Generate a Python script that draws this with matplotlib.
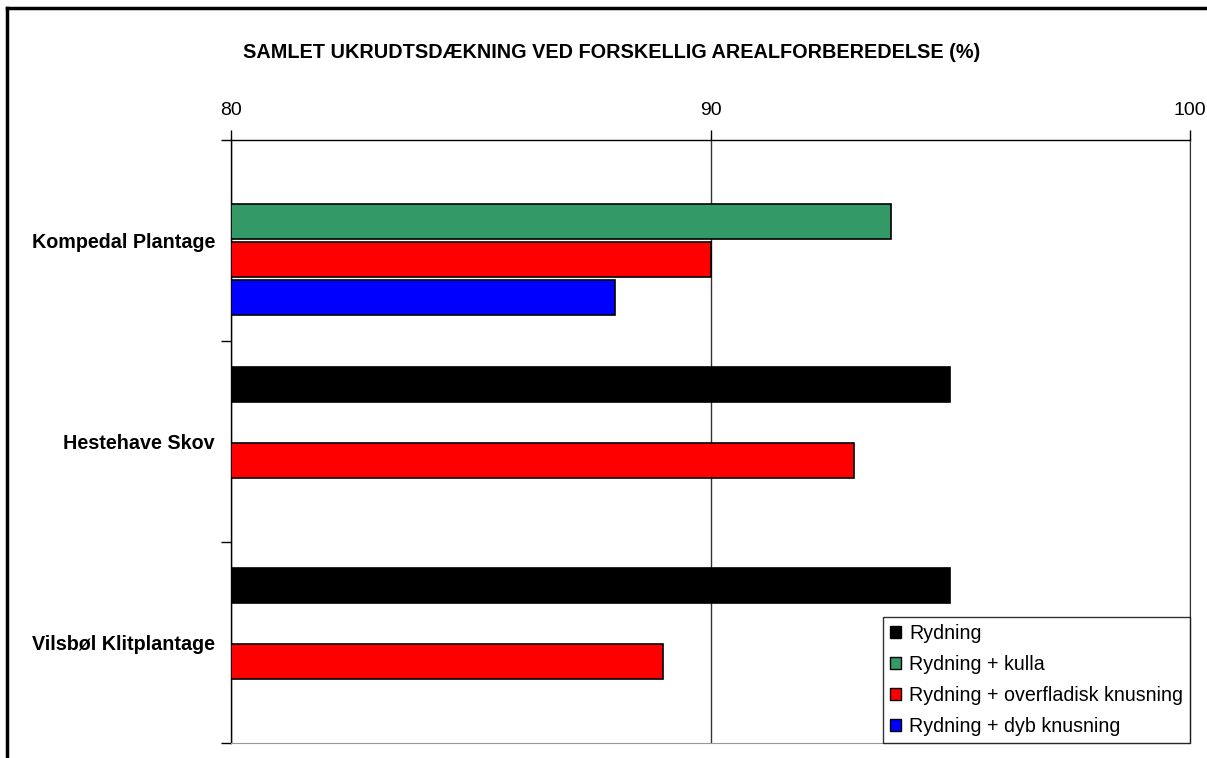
import numpy as np
import matplotlib.pyplot as plt
from matplotlib.lines import Line2D

plt.rcParams['font.family'] = ['Liberation Sans', 'DejaVu Sans']

categories = ['Kompedal Plantage', 'Hestehave Skov', 'Vilsbøl Klitplantage']
series = ['Rydning', 'Rydning + kulla', 'Rydning + overfladisk knusning',
          'Rydning + dyb knusning']
colors = ['#000000', '#339966', '#FF0000', '#0000FF']

rydning = [np.nan, 95.0, 95.0]
kulla = [93.77, np.nan, np.nan]
overfladisk = [90.0, 93.0, 89.0]
dyb = [88.0, np.nan, np.nan]
values = [rydning, kulla, overfladisk, dyb]

base = 80
x_ticks = [80, 90, 100]

fig = plt.figure(figsize=(12.07, 7.58), dpi=100)
ax = fig.add_axes([231 / 1207, 1 - 743 / 758, (1190 - 231) / 1207, (743 - 140) / 758])

y = np.arange(len(categories))
slot = 0.1875
for j, (vals, col) in enumerate(zip(values, colors)):
    v = np.array(vals, dtype=float)
    ax.barh(y + (j - 1.5) * slot, v - base, left=base, height=slot * 0.93,
            color=col, edgecolor='black', linewidth=1.2, zorder=3)

ax.set_xlim(80, 100)
ax.set_ylim(2.5, -0.5)
ax.xaxis.tick_top()
ax.set_xticks(x_ticks)
ax.set_xticklabels([str(t) for t in x_ticks], fontsize=14)
ax.tick_params(axis='x', length=7, pad=8, width=1)
ax.grid(axis='x', color='#333333', linewidth=1, zorder=0)

ax.set_yticks(y)
ax.set_yticklabels(categories, fontsize=14.2, fontweight='bold')
ax.tick_params(axis='y', which='major', length=0, pad=11.5)
ax.set_yticks([-0.5, 0.5, 1.5, 2.5], minor=True)
ax.tick_params(axis='y', which='minor', length=7, width=1)

ax.spines['right'].set_color('#333333')
ax.spines['bottom'].set_color('#999999')
ax.spines['top'].set_linewidth(1)
ax.spines['left'].set_linewidth(1)

handles = [plt.Rectangle((0, 0), 1, 1, facecolor=c, edgecolor='black', linewidth=1)
           for c in colors]
leg = ax.legend(handles, series, loc='lower right', bbox_to_anchor=(1.0, 0.0),
                fontsize=14.1, frameon=True, fancybox=False, handlelength=0.6,
                handleheight=0.6, handletextpad=0.4, borderaxespad=0,
                labelspacing=0.62, borderpad=0.35)
leg.get_frame().set_edgecolor('black')
leg.get_frame().set_linewidth(1)
leg.set_zorder(5)

fig.text(612 / 1207, 1 - 52 / 758,
         'SAMLET UKRUDTSDÆKNING VED FORSKELLIG AREALFORBEREDELSE (%)',
         ha='center', va='center', fontsize=14.3, fontweight='bold')

# outer chart border (top and left visible)
fig.add_artist(Line2D([7 / 1207, 7 / 1207], [0, 1 - 8 / 758], color='black',
                      linewidth=2.5, transform=fig.transFigure))
fig.add_artist(Line2D([7 / 1207, 1], [1 - 8 / 758, 1 - 8 / 758], color='black',
                      linewidth=2.5, transform=fig.transFigure))

fig.savefig('out.png', dpi=100)
